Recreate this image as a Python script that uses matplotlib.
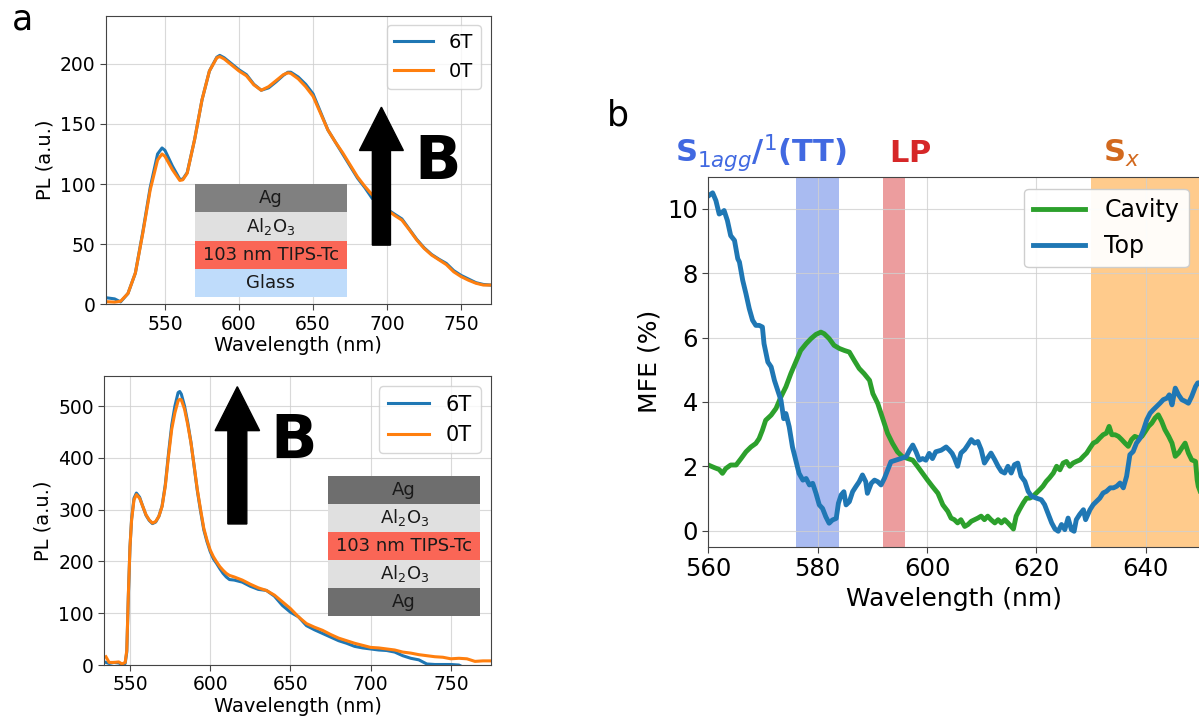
import matplotlib
matplotlib.use("Agg")
import matplotlib.pyplot as plt
from matplotlib.patches import Rectangle, FancyArrow

plt.rcParams['font.family'] = ['DejaVu Sans']
plt.rcParams['mathtext.fontset'] = 'dejavusans'

# ---------------- data ----------------
# Panel a (top): bare film, PL spectra
wl_film = [510, 513, 516, 520, 525, 530, 535, 540, 545, 548, 550, 555, 560, 562, 565,
           570, 575, 580, 585, 587, 590, 595, 600, 605, 610, 615, 620, 625, 630, 633,
           635, 640, 645, 650, 655, 660, 665, 670, 675, 680, 685, 690, 695, 700, 705,
           710, 715, 720, 725, 730, 735, 740, 745, 750, 755, 760, 765, 770]
pl_film_0T = [2.2, 2.0, 1.8, 2.5, 9, 26, 59, 95, 120, 125, 123, 112, 103, 103.5, 109,
              137, 170, 194, 205, 206, 204, 199, 194, 190, 182.5, 178, 181, 186, 191, 192.5,
              192, 187.5, 181, 173, 159, 145, 135, 126, 116, 106, 98, 91, 85.5, 78.5, 74,
              70, 62, 53.5, 46.5, 41, 37, 33, 27, 23, 20, 17.5, 16, 16]
pl_film_6T = [5.5, 5.0, 4.5, 2.0, 9, 26, 60, 97, 125, 130, 128, 115, 104, 104, 109.5,
              137, 170, 194, 205.5, 207, 205, 200, 195, 191, 183, 178, 180, 185, 190.5, 193,
              193, 189, 183, 175, 160, 145, 135, 125, 115, 105, 97, 88, 84, 79, 75,
              71, 62.5, 54, 47, 41.5, 37.5, 34, 28, 24, 21, 18, 16.5, 16]

# Panel a (bottom): cavity sample, PL spectra
wl_cav = [535, 537, 540, 543, 545, 547, 548, 549, 550, 551, 552.5, 554, 556, 558, 560,
          562, 564, 566, 568, 570, 572, 574, 576, 578, 580, 581, 582, 584, 586, 588,
          590, 592, 594, 596, 598, 600, 602, 604, 606, 608, 610, 612, 615, 620, 625,
          630, 635, 640, 645, 650, 655, 660, 665, 670, 675, 680, 685, 690, 695, 700,
          705, 710, 715, 720, 725, 730, 735, 740, 745, 750, 755, 760, 765, 770, 775]
pl_cav_0T = [16, 5, 5, 6, 2, 5, 28, 138, 228, 280, 319, 329, 322, 306, 290,
             280, 274, 277, 287, 306, 345, 403, 455, 487, 510, 513, 512, 494, 464, 429,
             384, 338, 300, 264, 241, 222, 209, 199, 190, 183, 177, 173, 170, 164, 156,
             149, 144, 135, 122, 109, 93, 80, 73, 67, 59, 52, 47, 42, 38, 34,
             33, 31, 29, 25, 23, 20, 18, 16, 15, 12, 13, 12, 7, 8, 8]
pl_cav_6T = [5, 3, 5, 4, 1, 3, 25, 135, 228, 282, 322, 332, 324, 306, 289,
             279, 273, 276, 287, 307, 348, 408, 463, 500, 526, 528, 523, 500, 468, 430,
             383, 336, 297, 261, 238, 219, 205, 196, 186, 177, 170, 165, 164, 160, 152,
             146, 144, 133, 115, 102, 93, 76, 68, 61, 54, 47, 42, 36, 33, 31,
             29, 28, 25, 18, 13, 10, 2, 1, 1, 1, 0, -8, -8, -8, -8]

# Panel b: magnetic field effect, cavity sample
wl_cavity = [560, 561.1, 562, 562.6, 563.2, 564.1, 565.1, 566, 566.9, 567.8,
             568.7, 569.3, 569.9, 570.5, 571.5, 572.4, 573.3, 574.2, 575.1, 576,
             576.9, 577.9, 578.8, 579.7, 580.6, 581.2, 582.1, 583, 584, 584.9,
             585.8, 586.7, 587.6, 588.5, 589.5, 590.1, 591, 591.9, 592.8, 593.7,
             594.6, 595.5, 596.5, 597.4, 598.3, 599.2, 600.1, 601, 602, 602.9,
             603.8, 604.4, 605, 605.6, 606.2, 606.9, 607.5, 608.1, 608.7, 609.3,
             609.9, 610.5, 611.1, 611.7, 612.4, 613, 613.6, 614.2, 614.8, 615.4,
             615.8, 616.3, 616.9, 617.6, 618.2, 618.8, 619.4, 620, 620.6, 621.2,
             621.8, 622.4, 623.1, 623.7, 624.3, 624.9, 625.5, 626.1, 626.7, 627.3,
             628, 628.6, 629.2, 629.8, 630.4, 631, 631.6, 632.2, 632.8, 633.3,
             633.8, 634.4, 635, 635.6, 636.2, 636.8, 637.4, 638, 638.7, 639.3,
             639.9, 640.5, 641.1, 641.7, 642.3, 642.9, 643.5, 644.2, 644.8, 645.4,
             646, 646.6, 647.2, 647.8, 648.4, 649.1, 649.4, 649.6, 650]
mfe_cavity = [2.04, 1.96, 1.9, 1.78, 1.93, 2.04, 2.04, 2.24, 2.45, 2.6,
              2.71, 2.86, 3.12, 3.43, 3.59, 3.8, 4.16, 4.47, 4.88, 5.24,
              5.6, 5.81, 5.97, 6.1, 6.17, 6.12, 5.97, 5.76, 5.66, 5.6,
              5.55, 5.29, 5.04, 4.88, 4.67, 4.26, 3.95, 3.48, 3.02, 2.71,
              2.45, 2.3, 2.24, 2.19, 1.99, 1.78, 1.57, 1.37, 1.16, 0.8,
              0.6, 0.39, 0.34, 0.24, 0.34, 0.13, 0.19, 0.29, 0.34, 0.39,
              0.45, 0.34, 0.45, 0.34, 0.24, 0.34, 0.24, 0.34, 0.24, 0.13,
              0.05, 0.45, 0.65, 0.86, 1.01, 1.01, 1.07, 1.17, 1.27, 1.38,
              1.53, 1.64, 1.79, 2.0, 1.89, 2.1, 2.15, 2.0, 2.1, 2.15,
              2.2, 2.31, 2.41, 2.57, 2.72, 2.77, 2.88, 2.98, 3.03, 3.24,
              2.98, 2.98, 2.93, 2.83, 2.72, 2.62, 2.83, 2.93, 2.88, 2.93,
              3.08, 3.24, 3.34, 3.5, 3.6, 3.4, 3.14, 2.93, 2.72, 2.31,
              2.41, 2.57, 2.72, 2.41, 2.2, 2.15, 1.58, 1.38, 1.2]

# Panel b: magnetic field effect, top (bare film) sample
wl_top = [560, 560.8, 561.4, 562, 562.6, 562.9, 563.5, 564.1, 564.8, 565.4,
          565.7, 566.3, 566.9, 567.5, 568.1, 568.7, 569.3, 569.9, 570.2, 570.9,
          571.5, 572.1, 572.7, 573.3, 573.8, 574.2, 574.8, 575.4, 576, 576.6,
          577.3, 577.9, 578.5, 579.1, 579.7, 580.3, 580.9, 581.5, 582.1, 582.7,
          583.4, 583.8, 584.3, 584.8, 585.2, 585.8, 586.4, 587, 587.6, 588.2,
          588.8, 589.1, 589.8, 590.4, 591, 591.6, 592.2, 592.8, 593.4, 594.3,
          595.2, 596.2, 596.8, 597.4, 598, 598.6, 599.2, 599.8, 600.4, 601,
          601.6, 602.6, 603.5, 604.1, 604.6, 605, 605.6, 606.2, 606.9, 607.5,
          608.1, 608.7, 609.3, 609.9, 610.5, 611.1, 611.7, 612.4, 613, 613.6,
          614.2, 614.8, 615.4, 616, 616.6, 617.2, 617.9, 618.5, 619.1, 620,
          620.9, 621.5, 622.1, 622.8, 623.4, 624, 624.6, 625.2, 625.8, 626.4,
          626.9, 627.3, 627.9, 628.6, 629, 629.8, 630.4, 631, 631.6, 632.2,
          632.8, 633.5, 634.1, 634.7, 635.3, 635.9, 636.5, 637.1, 637.7, 638.3,
          639, 639.6, 640.2, 640.8, 641.4, 642, 642.6, 643.2, 643.9, 644.3,
          644.8, 645.4, 646, 646.6, 647.2, 647.8, 648.4, 649.1, 649.5, 650]
mfe_top = [10.4, 10.5, 10.26, 9.84, 9.9, 9.95, 9.64, 9.17, 9.02, 8.45,
           8.35, 7.78, 7.36, 6.9, 6.54, 6.38, 6.38, 6.33, 5.81, 5.24,
           5.09, 4.67, 4.36, 4.05, 3.48, 3.64, 3.23, 2.6, 2.19, 1.78,
           1.57, 1.62, 1.42, 1.47, 1.16, 0.8, 0.69, 0.43, 0.23, 0.33,
           0.38, 0.85, 1.11, 1.21, 0.8, 0.9, 1.21, 1.37, 1.52, 1.73,
           1.52, 1.16, 1.47, 1.57, 1.52, 1.42, 1.62, 1.88, 2.14, 2.19,
           2.24, 2.3, 2.5, 2.66, 2.45, 2.19, 2.24, 2.19, 2.4, 2.24,
           2.45, 2.5, 2.6, 2.5, 2.4, 2.26, 2.0, 2.41, 2.52, 2.67,
           2.83, 2.72, 2.77, 2.52, 2.1, 2.26, 2.41, 2.2, 2.0, 1.84,
           1.79, 2.0, 1.79, 2.05, 2.1, 1.69, 1.53, 1.22, 1.07, 1.01,
           0.96, 0.81, 0.55, 0.24, 0.05, -0.02, 0.19, 0.03, 0.39, 0.03,
           -0.02, 0.34, 0.5, 0.65, 0.34, 0.65, 0.81, 0.91, 1.01, 1.17,
           1.22, 1.33, 1.33, 1.38, 1.48, 1.33, 1.69, 2.36, 2.46, 2.72,
           2.88, 3.14, 3.45, 3.65, 3.76, 3.86, 3.96, 4.07, 4.12, 4.22,
           3.91, 4.43, 4.22, 4.07, 4.02, 3.96, 4.17, 4.48, 4.59, 4.6]

bands = [(576, 584, 'royalblue', 0.45),
         (592, 596, 'tab:red', 0.45),
         (630, 660, 'darkorange', 0.45)]
band_labels = [(569.7, r'$\mathbf{S}_{1agg}\mathbf{/}^{1}\mathbf{(TT)}$', 'royalblue'),
               (597.0, r'$\mathbf{LP}$', '#d62728'),
               (635.6, r'$\mathbf{S}_{x}$', 'chocolate')]

film_layers = [('Ag', '#808080'), (r'Al$_2$O$_3$', '#e0e0e0'),
               ('103 nm TIPS-Tc', '#fa6656'), ('Glass', '#bfdcfb')]
cavity_layers = [('Ag', '#6e6e6e'), (r'Al$_2$O$_3$', '#e0e0e0'),
                 ('103 nm TIPS-Tc', '#fa6656'), (r'Al$_2$O$_3$', '#e0e0e0'),
                 ('Ag', '#6e6e6e')]

BLUE, ORANGE, GREEN = '#1f77b4', '#ff7f0e', '#2ca02c'
SPINE = '#444444'

fig = plt.figure(figsize=(11.99, 7.17), dpi=100)

ax1 = fig.add_axes([0.0882, 0.5756, 0.3211, 0.4025])
ax2 = fig.add_axes([0.0870, 0.0725, 0.3225, 0.4031])
ax3 = fig.add_axes([0.5907, 0.2375, 0.4105, 0.5160])


def style(ax, tick_fs):
    ax.grid(True, color='#d0d0d0', linewidth=0.8, alpha=0.8)
    ax.set_axisbelow(True)
    for s in ax.spines.values():
        s.set_color(SPINE)
    ax.tick_params(labelsize=tick_fs, color=SPINE, length=4)


def layer_stack(ax, layers, x0, x1, y0, y1, fs):
    n = len(layers)
    h = (y1 - y0) / n
    for i, (name, col) in enumerate(layers):
        yb = y1 - (i + 1) * h
        ax.add_patch(Rectangle((x0, yb), x1 - x0, h, transform=ax.transAxes,
                               facecolor=col, edgecolor='none', zorder=5))
        ax.text((x0 + x1) / 2, yb + h / 2, name, transform=ax.transAxes,
                ha='center', va='center', fontsize=fs, color='#1a1a1a', zorder=6)


def field_arrow(ax, x, y0, y1, w, hw, hl, bx, by):
    ax.add_patch(FancyArrow(x, y0, 0, y1 - y0, width=w, head_width=hw,
                            head_length=hl, length_includes_head=True,
                            transform=ax.transAxes, color='black', zorder=7))
    ax.text(bx, by, 'B', transform=ax.transAxes, fontsize=44, fontweight='bold',
            ha='center', va='center', color='black', zorder=7)


# ---- panel a, top ----
ax1.plot(wl_film, pl_film_6T, color=BLUE, lw=2.2, label='6T')
ax1.plot(wl_film, pl_film_0T, color=ORANGE, lw=2.2, label='0T')
ax1.set_xlim(510, 770)
ax1.set_ylim(0, 240)
ax1.set_xticks([550, 600, 650, 700, 750])
ax1.set_yticks([0, 50, 100, 150, 200])
style(ax1, 13.5)
ax1.set_xlabel('Wavelength (nm)', fontsize=14, labelpad=2)
ax1.set_ylabel('PL (a.u.)', fontsize=14)
ax1.legend(loc='upper right', fontsize=14)
layer_stack(ax1, film_layers, 0.232, 0.626, 0.026, 0.416, 13)
field_arrow(ax1, 0.716, 0.205, 0.683, 0.047, 0.114, 0.150, 0.862, 0.49)

# ---- panel a, bottom ----
ax2.plot(wl_cav, pl_cav_6T, color=BLUE, lw=2.2, label='6T')
ax2.plot(wl_cav, pl_cav_0T, color=ORANGE, lw=2.2, label='0T')
ax2.set_xlim(534, 775)
ax2.set_ylim(0, 558)
ax2.set_xticks([550, 600, 650, 700, 750])
ax2.set_yticks([0, 100, 200, 300, 400, 500])
style(ax2, 13.5)
ax2.set_xlabel('Wavelength (nm)', fontsize=14, labelpad=2)
ax2.set_ylabel('PL (a.u.)', fontsize=14)
ax2.legend(loc='upper right', fontsize=15)
layer_stack(ax2, cavity_layers, 0.579, 0.972, 0.170, 0.655, 13)
field_arrow(ax2, 0.344, 0.488, 0.963, 0.049, 0.115, 0.152, 0.489, 0.772)

# ---- panel b ----
for lo, hi, col, a in bands:
    ax3.axvspan(lo, hi, color=col, alpha=a, lw=0, zorder=0.5)
ax3.plot(wl_cavity, mfe_cavity, color=GREEN, lw=3.5, label='Cavity')
ax3.plot(wl_top, mfe_top, color=BLUE, lw=3.5, label='Top')
ax3.set_xlim(560, 650)
ax3.set_ylim(-0.5, 11)
ax3.set_xticks([560, 580, 600, 620, 640])
ax3.set_yticks([0, 2, 4, 6, 8, 10])
style(ax3, 17.5)
ax3.set_xlabel('Wavelength (nm)', fontsize=18, labelpad=4)
ax3.set_ylabel('MFE (%)', fontsize=18)
ax3.legend(loc='upper right', fontsize=17, handlelength=2.2, framealpha=0.95)
for xpos, txt, col in band_labels:
    ax3.text(xpos, 1.04, txt, transform=ax3.get_xaxis_transform(), ha='center',
             va='baseline', fontsize=22, color=col)

fig.text(11.7 / 1199, 1 - 30 / 717, 'a', fontsize=25, ha='left', va='baseline')
fig.text(607 / 1199, 1 - 125 / 717, 'b', fontsize=25, ha='left', va='baseline')

fig.savefig('out.png', dpi=100)
